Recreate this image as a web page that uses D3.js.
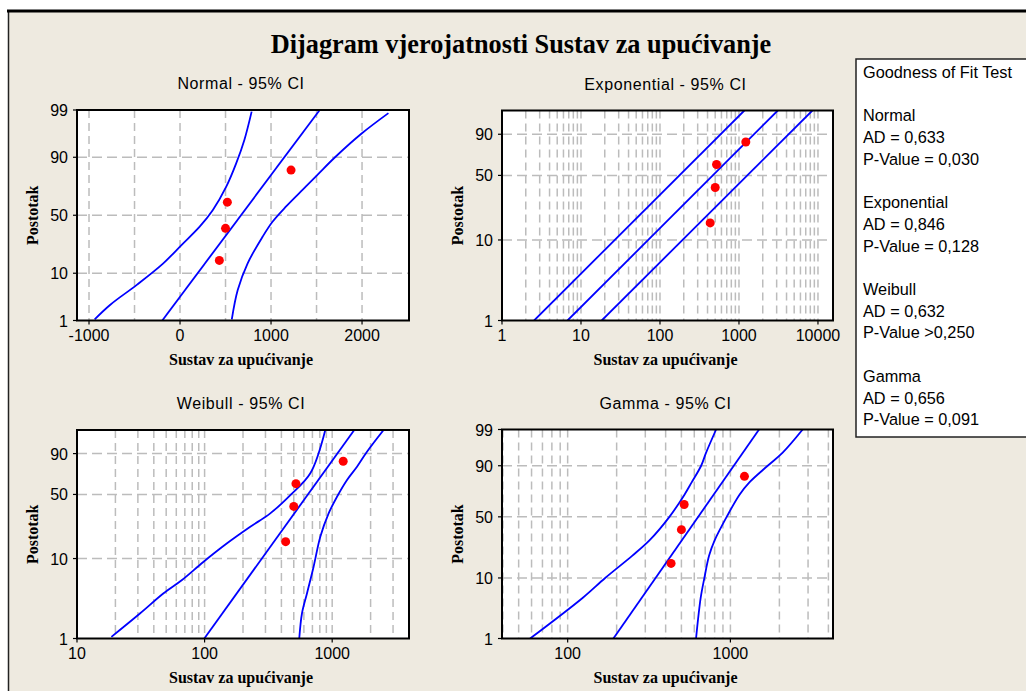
<!DOCTYPE html>
<html>
<head>
<meta charset="utf-8">
<script src="https://cdn.jsdelivr.net/npm/d3@7"></script>
<style>
  html, body { margin: 0; padding: 0; background: #ffffff; }
  svg { display: block; }
</style>
</head>
<body>
<svg id="chart" width="1026" height="691"></svg>
<script>
// ---------------- DATA ----------------
const chartTitle = "Dijagram vjerojatnosti Sustav za upućivanje";
const xAxisTitle = "Sustav za upućivanje";
const yAxisTitle = "Postotak";

const panelNames = ["Normal", "Exponential", "Weibull", "Gamma"];

// observed data (same sample in all panels) and plotting positions (%)
const sampleValues = [432, 500, 520, 1220];
const samplePercents = [15.9, 38.6, 61.4, 84.1];

// Normal panel: [value, percent]
const normalFit = [[-195, 1], [1535, 99]];
const normalLower = [[-938, 1.07], [-766, 2.4], [-475, 6.2], [-184, 14.4], [16, 25.5], [216, 40], [361, 54.6], [508, 73.6], [617, 87.4], [707, 95.2], [787, 98.9]];
const normalUpper = [[569, 1.07], [634, 4.9], [743, 14.4], [907, 31.7], [1016, 44.3], [1163, 57.5], [1381, 73.6], [1526, 82.3], [1709, 90.2], [1999, 96.5], [2290, 98.8]];

// Exponential panel
const expFit = [[6.75, 1], [3100, 99]];
const expLower = [[2.55, 1], [1170, 99]];
const expUpper = [[18.3, 1], [8500, 99]];

// Weibull panel
const weibFit = [[99.5, 1], [1490, 99]];
const weibLower = [[18.6, 1.05], [31.3, 2.09], [47.7, 3.73], [66.5, 5.46], [98.2, 9.15], [150, 15.2], [228, 23.5], [327, 32.8], [470, 49.4], [674, 72.5], [883, 99]];
const weibUpper = [[552, 1], [580, 2.09], [635, 3.73], [715, 7.96], [807, 18.1], [938, 32.8], [1091, 47.7], [1307, 65.4], [1565, 79.1], [1874, 91.2], [2530, 99]];

// Gamma panel
const gammaFit = [[191, 1], [1500, 99]];
const gammaLower = [[58.8, 1], [124, 5], [170, 10], [250, 20], [318, 30], [422, 50], [521, 70], [578, 80], [661, 90], [709, 95], [817, 99]];
const gammaUpper = [[615, 1], [657, 5], [692, 10], [740, 20], [800, 30], [949, 50], [1135, 70], [1308, 80], [1695, 90], [2095, 95], [2780, 99]];

// tick labels
const normalXTicks = [-1000, 0, 1000, 2000];
const normalXGrid = [-1000, -500, 0, 500, 1000, 1500, 2000];
const expXTicks = [1, 10, 100, 1000, 10000];
const weibXTicks = [10, 100, 1000];
const gammaXTicks = [100, 1000];
const yTicksFull = [1, 10, 50, 90, 99];
const yTicksShort = [1, 10, 50, 90];
const yGrid = [10, 50, 90];

// goodness of fit legend
const gofTitle = "Goodness of Fit Test";
const gofAD = ["0,633", "0,846", "0,632", "0,656"];
const gofP = ["= 0,030", "= 0,128", ">0,250", "= 0,091"];

// ---------------- HELPERS ----------------
function invNorm(p) {
  const a = [-3.969683028665376e+01, 2.209460984245205e+02, -2.759285104469687e+02, 1.383577518672690e+02, -3.066479806614716e+01, 2.506628277459239e+00];
  const b = [-5.447609879822406e+01, 1.615858368580409e+02, -1.556989798598866e+02, 6.680131188771972e+01, -1.328068155288572e+01];
  const c = [-7.784894002430293e-03, -3.223964580411365e-01, -2.400758277161838e+00, -2.549732539343734e+00, 4.374664141464968e+00, 2.938163982698783e+00];
  const d = [7.784695709041462e-03, 3.224671290700398e-01, 2.445134137142996e+00, 3.754408661907416e+00];
  const pl = 0.02425;
  let q, r;
  if (p < pl) {
    q = Math.sqrt(-2 * Math.log(p));
    return (((((c[0]*q+c[1])*q+c[2])*q+c[3])*q+c[4])*q+c[5]) / ((((d[0]*q+d[1])*q+d[2])*q+d[3])*q+1);
  }
  if (p <= 1 - pl) {
    q = p - 0.5; r = q * q;
    return (((((a[0]*r+a[1])*r+a[2])*r+a[3])*r+a[4])*r+a[5])*q / (((((b[0]*r+b[1])*r+b[2])*r+b[3])*r+b[4])*r+1);
  }
  q = Math.sqrt(-2 * Math.log(1 - p));
  return -(((((c[0]*q+c[1])*q+c[2])*q+c[3])*q+c[4])*q+c[5]) / ((((d[0]*q+d[1])*q+d[2])*q+d[3])*q+1);
}
// probability-paper transforms (percent -> axis units)
const tNormal = pc => invNorm(pc / 100);
const tLogLog = pc => Math.log(-Math.log(1 - pc / 100));
const GSHAPE = 6;
const tGamma = pc => {
  const z = invNorm(pc / 100);
  return 3 * Math.log(1 - 1 / (9 * GSHAPE) + z / (3 * Math.sqrt(GSHAPE)));
};

// ---------------- LAYOUT ----------------
const svg = d3.select("#chart");
const BG = "#eeeae0";

svg.append("rect").attr("x", 8).attr("y", 10).attr("width", 1018).attr("height", 681).attr("fill", BG);
svg.append("line").attr("x1", 8.5).attr("x2", 8.5).attr("y1", 10).attr("y2", 691).attr("stroke", "#222").attr("stroke-width", 1.5);
svg.append("line").attr("x1", 7).attr("x2", 1026).attr("y1", 11).attr("y2", 11).attr("stroke", "#000").attr("stroke-width", 3);

svg.append("text").attr("x", 521).attr("y", 53).attr("text-anchor", "middle")
  .attr("font-family", "'Liberation Serif', 'Times New Roman', serif").attr("font-weight", "bold")
  .attr("font-size", 26.3).attr("fill", "#000").text(chartTitle);

const panels = [
  { name: panelNames[0], left: 77, right: 409, top: 110, bottom: 320.5, xType: "lin", xDomain: [-1132, 2516],
    xTicks: normalXTicks, xGrid: normalXGrid, yT: tNormal, yTicks: yTicksFull,
    fit: normalFit, lo: normalLower, hi: normalUpper },
  { name: panelNames[1], left: 502, right: 833, top: 110.5, bottom: 320.5, xType: "log", xDomain: [1, 15500],
    xTicks: expXTicks, yT: tLogLog, yTicks: yTicksShort,
    fit: expFit, lo: expLower, hi: expUpper },
  { name: panelNames[2], left: 77, right: 409, top: 430, bottom: 638.5, xType: "log", xDomain: [10, 4000],
    xTicks: weibXTicks, yT: tLogLog, yTicks: yTicksShort,
    fit: weibFit, lo: weibLower, hi: weibUpper },
  { name: panelNames[3], left: 502, right: 833, top: 429.5, bottom: 638.5, xType: "log", xDomain: [39.5, 4270],
    xTicks: gammaXTicks, yT: tGamma, yTicks: yTicksFull,
    fit: gammaFit, lo: gammaLower, hi: gammaUpper }
];

const sans = "'Liberation Sans', Arial, sans-serif";
const serif = "'Liberation Serif', 'Times New Roman', serif";

panels.forEach((p, i) => {
  const g = svg.append("g");
  const x = (p.xType === "lin" ? d3.scaleLinear() : d3.scaleLog()).domain(p.xDomain).range([p.left, p.right]);
  const y = d3.scaleLinear().domain([p.yT(1), p.yT(99)]).range([p.bottom, p.top]);
  const W = p.right - p.left, H = p.bottom - p.top;

  g.append("rect").attr("x", p.left).attr("y", p.top).attr("width", W).attr("height", H).attr("fill", "#fff");

  // grid
  let gridX;
  if (p.xType === "lin") gridX = p.xGrid;
  else {
    gridX = [];
    const lo = Math.floor(Math.log10(p.xDomain[0])), hi = Math.ceil(Math.log10(p.xDomain[1]));
    for (let e = lo; e <= hi; e++) for (let m = 1; m <= 9; m++) {
      const v = m * Math.pow(10, e);
      if (v > p.xDomain[0] * 1.01 && v < p.xDomain[1] * 0.995) gridX.push(v);
    }
  }
  const clipId = "clip" + i;
  svg.append("clipPath").attr("id", clipId).append("rect").attr("x", p.left).attr("y", p.top).attr("width", W).attr("height", H);
  const inner = g.append("g").attr("clip-path", `url(#${clipId})`);

  inner.selectAll(".vg").data(gridX).enter().append("line")
    .attr("x1", d => x(d)).attr("x2", d => x(d)).attr("y1", p.top).attr("y2", p.bottom)
    .attr("stroke", "#bcbcbc").attr("stroke-width", 1.5).attr("stroke-dasharray", "8,5");
  inner.selectAll(".hg").data(yGrid).enter().append("line")
    .attr("x1", p.left).attr("x2", p.right).attr("y1", d => y(p.yT(d))).attr("y2", d => y(p.yT(d)))
    .attr("stroke", "#bcbcbc").attr("stroke-width", 1.5).attr("stroke-dasharray", "10,5");

  // lines
  const lineStraight = d3.line().x(d => x(d[0])).y(d => y(p.yT(d[1])));
  const lineCurve = d3.line().x(d => x(d[0])).y(d => y(p.yT(d[1]))).curve(d3.curveCatmullRom.alpha(0.5));
  [p.lo, p.hi].forEach(c => {
    inner.append("path").datum(c).attr("d", c.length > 2 ? lineCurve : lineStraight)
      .attr("fill", "none").attr("stroke", "#0000ff").attr("stroke-width", 1.8);
  });
  inner.append("path").datum(p.fit).attr("d", lineStraight)
    .attr("fill", "none").attr("stroke", "#0000ff").attr("stroke-width", 1.8);

  // points
  inner.selectAll(".pt").data(sampleValues).enter().append("circle")
    .attr("cx", d => x(d)).attr("cy", (d, j) => y(p.yT(samplePercents[j]))).attr("r", 4.5)
    .attr("fill", "#ff0000");

  // frame
  g.append("rect").attr("x", p.left).attr("y", p.top).attr("width", W).attr("height", H)
    .attr("fill", "none").attr("stroke", "#000").attr("stroke-width", 2);

  // x ticks
  const xt = g.selectAll(".xt").data(p.xTicks).enter().append("g");
  xt.append("line").attr("x1", d => x(d)).attr("x2", d => x(d)).attr("y1", p.bottom).attr("y2", p.bottom + 4)
    .attr("stroke", "#000").attr("stroke-width", 1.2);
  xt.append("text").attr("x", d => x(d)).attr("y", p.bottom + 20).attr("text-anchor", "middle")
    .attr("font-family", sans).attr("font-size", 16).attr("fill", "#000").text(d => d);

  // y ticks
  const yt = g.selectAll(".yt").data(p.yTicks).enter().append("g");
  yt.append("line").attr("x1", p.left - 4).attr("x2", p.left).attr("y1", d => y(p.yT(d))).attr("y2", d => y(p.yT(d)))
    .attr("stroke", "#000").attr("stroke-width", 1.2);
  yt.append("text").attr("x", p.left - 9).attr("y", d => y(p.yT(d)) + 6).attr("text-anchor", "end")
    .attr("font-family", sans).attr("font-size", 16).attr("fill", "#000").text(d => d);

  // titles
  const cx = (p.left + p.right) / 2;
  g.append("text").attr("x", cx - 2).attr("y", p.top - 21).attr("text-anchor", "middle")
    .attr("font-family", sans).attr("font-size", 16).attr("letter-spacing", 0.6).attr("fill", "#000")
    .text(p.name + " - 95% CI");
  g.append("text").attr("x", cx - 2).attr("y", p.bottom + 44).attr("text-anchor", "middle")
    .attr("font-family", serif).attr("font-weight", "bold").attr("font-size", 16).attr("fill", "#000")
    .text(xAxisTitle);
  const cy = (p.top + p.bottom) / 2;
  g.append("text").attr("transform", `translate(${p.left - 39},${cy}) rotate(-90)`).attr("text-anchor", "middle")
    .attr("font-family", serif).attr("font-weight", "bold").attr("font-size", 16).attr("fill", "#000")
    .text(yAxisTitle);
});

// legend box
const lg = svg.append("g");
lg.append("rect").attr("x", 856).attr("y", 59).attr("width", 200).attr("height", 378)
  .attr("fill", "#fff").attr("stroke", "#222").attr("stroke-width", 1.5);
const legendLines = [gofTitle, ""];
panelNames.forEach((n, i) => {
  legendLines.push(n, "AD = " + gofAD[i], "P-Value " + gofP[i]);
  if (i < panelNames.length - 1) legendLines.push("");
});
lg.selectAll(".ll").data(legendLines).enter().append("text")
  .attr("x", 863).attr("y", (d, i) => 78 + i * 21.7)
  .attr("font-family", sans).attr("font-size", 16.3).attr("fill", "#000").text(d => d);
</script>
</body>
</html>
